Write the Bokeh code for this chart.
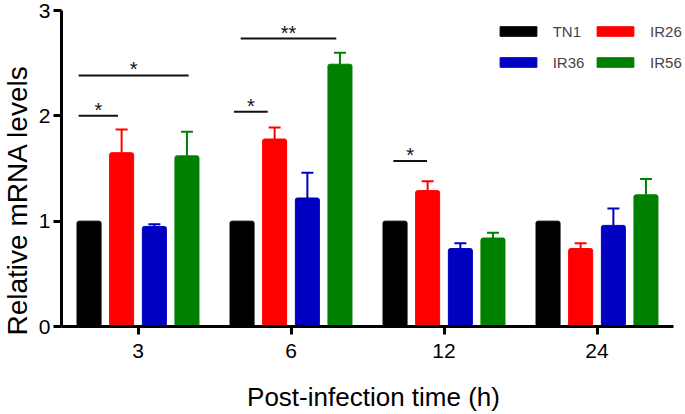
from bokeh.plotting import figure
from bokeh.models import (ColumnDataSource, Whisker, TeeHead, Legend, LegendItem,
                          Title, FixedTicker, Range1d)
from bokeh.transform import dodge
from bokeh.core.properties import value
from bokeh.embed import file_html
from bokeh.resources import INLINE

# ---------------- data ----------------
times = ["3", "6", "12", "24"]
series = ["TN1", "IR26", "IR36", "IR56"]
tn1 = [1.0, 1.0, 1.0, 1.0]
tn1_err = [0.0, 0.0, 0.0, 0.0]
ir26 = [1.65, 1.78, 1.29, 0.74]
ir26_err = [0.22, 0.11, 0.09, 0.05]
ir36 = [0.95, 1.22, 0.74, 0.96]
ir36_err = [0.02, 0.24, 0.05, 0.16]
ir56 = [1.62, 2.49, 0.84, 1.25]
ir56_err = [0.23, 0.11, 0.05, 0.15]

# significance brackets: category, start/end offset within category, height, label
sig_time = ["3", "3", "6", "6", "12"]
sig_x0 = [-0.388, -0.388, -0.373, -0.329, -0.331]
sig_x1 = [-0.131, 0.331, -0.152, 0.296, -0.111]
sig_y = [2.0, 2.384, 2.038, 2.733, 1.572]
sig_label = ["*", "*", "*", "**", "*"]

colors = ["#000000", "#FF0000", "#0000C0", "#008000"]
offsets = [-0.32, -0.107, 0.107, 0.32]
FONT = "Liberation Sans"

centers = [i + 0.5 for i in range(len(times))]

p = figure(width=685, height=414, output_backend="svg", toolbar_location=None,
           x_range=Range1d(0, len(times) + 12 / 153), y_range=Range1d(0, 3),
           min_border_left=61, min_border_right=0, min_border_top=10, min_border_bottom=86)
p.xgrid.visible = False
p.ygrid.visible = False
p.outline_line_color = None

vals = [tn1, ir26, ir36, ir56]
errs = [tn1_err, ir26_err, ir36_err, ir56_err]
renderers = []
for name, v, e, c, off in zip(series, vals, errs, colors, offsets):
    src = ColumnDataSource(dict(xc=centers, top=v, upper=[a + b for a, b in zip(v, e)]))
    r = p.vbar(x=dodge("xc", off), top="top", bottom=0, width=0.157,
               source=src, fill_color=c, line_color=c, line_width=1, border_radius=2)
    renderers.append(r)
    if any(x > 0 for x in e):
        w = Whisker(base=dodge("xc", off), lower="top", upper="upper",
                    source=src, line_color=c, line_width=2, lower_head=None,
                    upper_head=TeeHead(size=12, line_color=c, line_width=2))
        p.add_layout(w)

# significance
idx = [centers[times.index(t)] for t in sig_time]
sx0 = [i + a for i, a in zip(idx, sig_x0)]
sx1 = [i + b for i, b in zip(idx, sig_x1)]
sxc = [(a + b) / 2 for a, b in zip(sx0, sx1)]
ssrc = ColumnDataSource(dict(x0=sx0, x1=sx1, xc=sxc, y=sig_y, lab=sig_label))
p.segment(x0="x0", y0="y", x1="x1", y1="y", source=ssrc, line_color="#111111", line_width=2)
p.text(x="xc", y="y", text="lab", source=ssrc, text_align="center", text_baseline="alphabetic",
       y_offset=-6, text_font=value(FONT), text_font_size="20px", text_color="#111111")

# axes
for ax in (p.xaxis[0], p.yaxis[0]):
    ax.axis_line_width = 3
    ax.major_tick_line_width = 3
    ax.major_tick_out = 8
    ax.major_tick_in = 0
    ax.major_label_text_font = FONT
    ax.major_label_text_font_size = "21px"
    ax.major_label_text_color = "#000000"
    ax.minor_tick_line_color = None
p.xaxis[0].ticker = FixedTicker(ticks=centers)
p.xaxis[0].major_label_overrides = {c: t for c, t in zip(centers, times)}
p.xaxis[0].bounds = (0, len(times))
p.yaxis[0].ticker = FixedTicker(ticks=[0, 1, 2, 3])
p.yaxis[0].major_label_standoff = 3
p.xaxis[0].major_label_standoff = 9
p.xaxis[0].axis_label = "Post-infection time (h)"
p.xaxis[0].axis_label_text_font = FONT
p.xaxis[0].axis_label_text_font_size = "26px"
p.xaxis[0].axis_label_text_font_style = "normal"
p.xaxis[0].axis_label_text_color = "#000000"
p.xaxis[0].axis_label_standoff = 21

ylab = Title(text="Relative mRNA levels", align="left", offset=-9, standoff=1,
             vertical_align="top", text_font=FONT, text_font_size="28px",
             text_font_style="normal", text_color="#000000")
p.add_layout(ylab, "left")

# legend: two columns
def make_legend(items, x):
    leg = Legend(items=items, location=(x, 255), orientation="vertical",
                 glyph_width=46, glyph_height=12, label_standoff=12, label_height=18,
                 spacing=13, padding=0, margin=0, border_line_alpha=0,
                 background_fill_alpha=0, label_text_font=FONT, label_text_font_size="15px")
    p.add_layout(leg)

make_legend([LegendItem(label="TN1", renderers=[renderers[0]]),
             LegendItem(label="IR36", renderers=[renderers[2]])], 433.7)
make_legend([LegendItem(label="IR26", renderers=[renderers[1]]),
             LegendItem(label="IR56", renderers=[renderers[3]])], 531.1)

open("out.html", "w").write(file_html(p, INLINE))
